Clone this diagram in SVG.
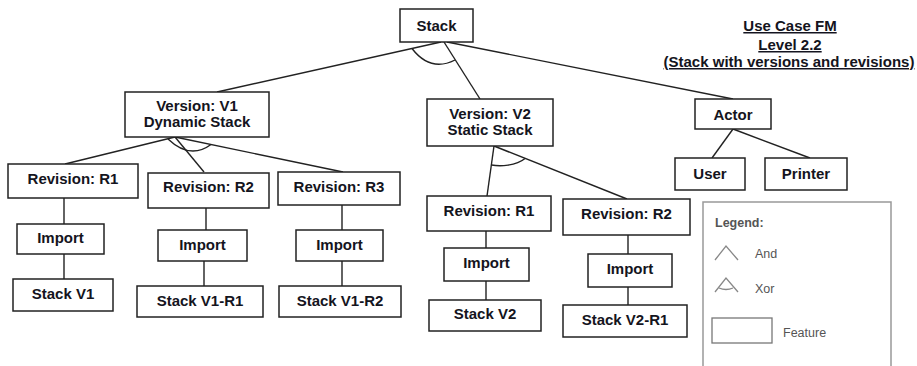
<svg xmlns="http://www.w3.org/2000/svg" width="917" height="366" viewBox="0 0 917 366">
<style>
.box{fill:#fff;stroke:#222;stroke-width:1.5}
.lbl{font-family:"Liberation Sans",Arial,sans-serif;font-weight:bold;font-size:15px;fill:#141420;text-anchor:middle}
.ttl{font-family:"Liberation Sans",Arial,sans-serif;font-weight:bold;font-size:15px;fill:#141420;text-anchor:middle;text-decoration:underline}
.con{fill:none;stroke:#222;stroke-width:1.4}
.lg{font-family:"Liberation Sans",Arial,sans-serif;font-size:12.5px;fill:#555}
.lgs{fill:none;stroke:#888;stroke-width:1.3}
</style>
<rect width="917" height="366" fill="#fff"/>
<g id="connectors">
<line class="con" x1="441" y1="42" x2="217" y2="92"/>
<line class="con" x1="444" y1="42" x2="480" y2="99"/>
<line class="con" x1="447" y1="42" x2="733" y2="99"/>
<path class="con" d="M412,48.5 Q430.5,72.5 455,60"/>
<line class="con" x1="175" y1="137" x2="65" y2="164"/>
<line class="con" x1="175" y1="137" x2="204" y2="172"/>
<line class="con" x1="175" y1="137" x2="343" y2="172"/>
<path class="con" d="M168,139 Q190,160 211,144.5"/>
<line class="con" x1="494" y1="146" x2="487" y2="196"/>
<line class="con" x1="494" y1="146" x2="627" y2="199"/>
<path class="con" d="M491.5,165 C500,166.5 516,166 525,158.5"/>
<line class="con" x1="733" y1="129" x2="712" y2="158"/>
<line class="con" x1="733" y1="129" x2="810" y2="158"/>
<line class="con" x1="64" y1="198" x2="64" y2="224"/>
<line class="con" x1="64" y1="254" x2="64" y2="279"/>
<line class="con" x1="206" y1="208" x2="206" y2="230"/>
<line class="con" x1="204" y1="261" x2="204" y2="286"/>
<line class="con" x1="342" y1="205" x2="342" y2="230"/>
<line class="con" x1="342" y1="261" x2="342" y2="286"/>
<line class="con" x1="486" y1="231" x2="486" y2="248"/>
<line class="con" x1="486" y1="281" x2="486" y2="300"/>
<line class="con" x1="628" y1="235" x2="628" y2="254"/>
<line class="con" x1="628" y1="287" x2="628" y2="305"/>
</g>
<g id="title">
<text class="ttl" x="790" y="31">Use Case FM</text>
<text class="ttl" x="790" y="50">Level 2.2</text>
<text class="ttl" x="789" y="67">(Stack with versions and revisions)</text>
</g>
<g id="stack"><rect class="box" x="400" y="9" width="73" height="33"/><text class="lbl" x="436.5" y="31">Stack</text></g>
<g id="v1"><rect class="box" x="125" y="92" width="144" height="45"/><text class="lbl" x="197" y="111">Version: V1</text><text class="lbl" x="197" y="127">Dynamic Stack</text></g>
<g id="v2"><rect class="box" x="427" y="99" width="126" height="47"/><text class="lbl" x="490" y="119">Version: V2</text><text class="lbl" x="490" y="135">Static Stack</text></g>
<g id="actor"><rect class="box" x="695" y="99" width="76" height="30"/><text class="lbl" x="733" y="120">Actor</text></g>
<g id="user"><rect class="box" x="675" y="158" width="70" height="32"/><text class="lbl" x="710" y="179">User</text></g>
<g id="printer"><rect class="box" x="765" y="158" width="82" height="32"/><text class="lbl" x="806" y="179">Printer</text></g>
<g id="v1r1"><rect class="box" x="8" y="164" width="130" height="34"/><text class="lbl" x="73" y="184">Revision: R1</text></g>
<g id="v1r2"><rect class="box" x="148" y="173" width="121" height="35"/><text class="lbl" x="208.5" y="192">Revision: R2</text></g>
<g id="v1r3"><rect class="box" x="278" y="172" width="122" height="33"/><text class="lbl" x="339" y="192">Revision: R3</text></g>
<g id="imp1"><rect class="box" x="17" y="224" width="87" height="30"/><text class="lbl" x="60.5" y="243">Import</text></g>
<g id="imp2"><rect class="box" x="158" y="230" width="89" height="31"/><text class="lbl" x="202.5" y="250">Import</text></g>
<g id="imp3"><rect class="box" x="296" y="230" width="87" height="31"/><text class="lbl" x="339.5" y="250">Import</text></g>
<g id="sv1"><rect class="box" x="13" y="279" width="100" height="32"/><text class="lbl" x="63" y="299">Stack V1</text></g>
<g id="sv1r1"><rect class="box" x="137" y="286" width="126" height="31"/><text class="lbl" x="200" y="306">Stack V1-R1</text></g>
<g id="sv1r2"><rect class="box" x="279" y="286" width="122" height="31"/><text class="lbl" x="340" y="306">Stack V1-R2</text></g>
<g id="v2r1"><rect class="box" x="427" y="196" width="124" height="35"/><text class="lbl" x="489" y="216">Revision: R1</text></g>
<g id="imp4"><rect class="box" x="444" y="248" width="85" height="33"/><text class="lbl" x="486.5" y="268">Import</text></g>
<g id="sv2"><rect class="box" x="429" y="300" width="112" height="31"/><text class="lbl" x="485" y="319">Stack V2</text></g>
<g id="v2r2"><rect class="box" x="563" y="199" width="127" height="36"/><text class="lbl" x="626.5" y="219">Revision: R2</text></g>
<g id="imp5"><rect class="box" x="588" y="254" width="84" height="33"/><text class="lbl" x="630" y="274">Import</text></g>
<g id="sv2r1"><rect class="box" x="563" y="305" width="124" height="32"/><text class="lbl" x="625" y="325">Stack V2-R1</text></g>
<g id="legend">
<rect x="703" y="202" width="188" height="180" fill="#fff" stroke="#999" stroke-width="1.5"/>
<text class="lg" x="715" y="227" font-weight="bold" fill="#555">Legend:</text>
<polyline class="lgs" points="715,260 726,246 738,260"/>
<text class="lg" x="755" y="258">And</text>
<polyline class="lgs" points="715,292 726,278 738,292"/>
<path class="lgs" d="M719,288 Q726,291 733,288"/>
<text class="lg" x="755" y="293">Xor</text>
<rect x="712" y="318" width="60" height="25" fill="#fff" stroke="#777" stroke-width="1.3"/>
<text class="lg" x="783" y="337" font-size="11.5">Feature</text>
</g>
</svg>
